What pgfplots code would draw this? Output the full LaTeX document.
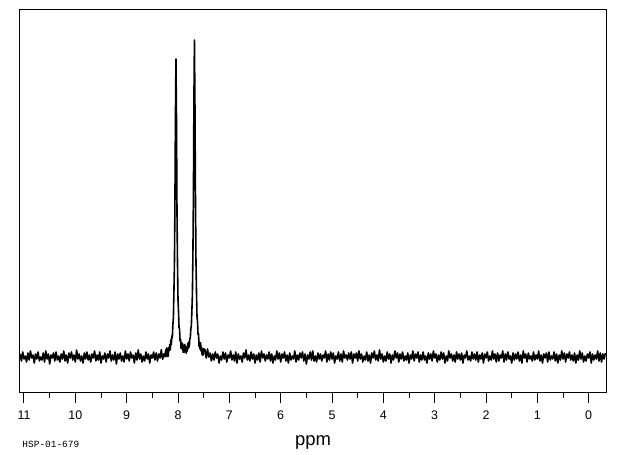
\documentclass[border=0pt]{standalone}
\usepackage{fontspec}
\setmainfont{Liberation Sans}
\newfontfamily\monofont{Liberation Mono}
\usepackage{pgfplots}
\pgfplotsset{compat=1.18}
\begin{document}
\begin{tikzpicture}
\begin{axis}[
  width=586bp, height=383.2bp, scale only axis,
  x dir=reverse, xmin=-0.337, xmax=11.078,
  ymin=-35.5, ymax=347.7,
  axis line style={line width=1bp},
  xtick={0,1,...,11},
  minor xtick={0.5,1.5,...,10.5},
  xtick pos=left, ytick=\empty,
  tick align=outside,
  major tick length=10bp, minor tick length=5bp,
  every tick/.style={black, line width=1bp},
  /pgf/number format/assume math mode=true,
  xticklabel style={font=\fontsize{12.5}{14}\selectfont, anchor=base, yshift=-17bp},
  xlabel={ppm},
  xlabel style={font=\fontsize{18.5}{20}\selectfont, at={(axis description cs:0.5,0)}, anchor=base, yshift=-52.5bp},
]
\addplot[black, line width=1.6bp, mark=none, line join=round] coordinates {
(11.075,3)(11.05,-4)(11.025,5)(11,-2)(10.975,1)(10.95,-5)(10.925,4)(10.9,-3)(10.875,6)(10.85,-1)
(10.825,2)(10.8,-6)(10.775,3)(10.75,-2)(10.725,5)(10.7,-4)(10.675,0)(10.65,-3)(10.625,4)(10.6,-5)
(10.575,6)(10.55,-2)(10.525,3)(10.5,-7)(10.475,2)(10.45,-1)(10.425,4)(10.4,-4)(10.375,5)(10.35,-3)
(10.325,1)(10.3,-5)(10.275,3)(10.25,-2)(10.225,6)(10.2,-4)(10.175,2)(10.15,-6)(10.125,4)(10.1,-1)
(10.075,5)(10.05,-3)(10.025,2)(10,-5)(9.975,7)(9.95,-2)(9.925,3)(9.9,-4)(9.875,1)(9.85,-6)
(9.825,4)(9.8,-2)(9.775,5)(9.75,-3)(9.725,2)(9.7,-5)(9.675,3)(9.65,-1)(9.625,6)(9.6,-4)
(9.575,2)(9.55,-3)(9.525,5)(9.5,-6)(9.475,1)(9.45,-2)(9.425,4)(9.4,-5)(9.375,3)(9.35,-1)
(9.325,6)(9.3,-4)(9.275,2)(9.25,-3)(9.225,5)(9.2,-7)(9.175,3)(9.15,-2)(9.125,4)(9.1,-4)
(9.075,1)(9.05,-5)(9.025,6)(9,-2)(8.975,3)(8.95,-4)(8.925,5)(8.9,-1)(8.875,2)(8.85,-6)
(8.825,4)(8.8,-3)(8.775,7)(8.75,-2)(8.725,3)(8.7,-5)(8.675,1)(8.65,-4)(8.625,5)(8.6,-2)
(8.575,3)(8.55,-6)(8.525,2)(8.5,-1)(8.475,5)(8.45,-3)(8.425,4)(8.4,-4)(8.375,3)(8.35,-1)
(8.325,7.4)(8.3,-2.3)(8.275,3.1)
(8.25,0.1)(8.24,7.3)(8.23,1.7)(8.22,9.1)(8.21,0.5)(8.20,7.1)(8.19,0.7)(8.18,9.5)(8.17,6.4)(8.16,12.6)
(8.15,7.1)(8.14,17.1)(8.13,12.6)(8.12,21.2)(8.11,19.2)(8.10,32.5)(8.09,38.9)(8.08,64.4)(8.07,90.5)(8.06,152.9)
(8.05,238.4)(8.04,298)(8.03,241.5)(8.02,147.1)(8.01,93.9)(8.00,56.8)(7.99,45.4)(7.98,29.2)(7.97,28.0)(7.96,16.1)
(7.95,17.7)(7.94,8.4)(7.93,14.6)(7.92,8.2)(7.91,13.3)(7.90,4.6)(7.89,10.1)(7.88,4.7)(7.87,12.6)(7.86,5.5)
(7.85,10.6)(7.84,3.8)(7.83,9.2)(7.82,5.8)(7.81,13.6)(7.80,8.6)(7.79,15.1)(7.78,10.0)(7.77,18.5)(7.76,19.1)
(7.75,28.3)(7.74,31.0)(7.73,45.9)(7.72,61.6)(7.71,100.6)(7.70,158.5)(7.69,255.6)(7.68,317)(7.67,252.5)(7.66,160.3)
(7.65,95.3)(7.64,66.1)(7.63,40.4)(7.62,35.4)(7.61,22.5)(7.60,23.2)(7.59,10.5)(7.58,14.8)(7.57,7.7)(7.56,14.1)
(7.55,5.8)(7.54,9.8)(7.53,2.0)(7.52,7.3)(7.51,1.8)(7.50,8.3)
(7.475,7)(7.45,-1)(7.425,8)(7.4,0)(7.375,4)(7.35,-4)(7.325,3)(7.3,-3)(7.275,5)(7.25,-1)
(7.225,3)(7.2,-6)(7.175,1)(7.15,-3)(7.125,5)(7.1,-2)(7.075,4)(7.05,-5)(7.025,2)(7,-1)
(6.975,6)(6.95,-3)(6.925,2)(6.9,-4)(6.875,5)(6.85,-6)(6.825,3)(6.8,-2)(6.775,1)(6.75,-5)
(6.725,4)(6.7,-1)(6.675,7)(6.65,-3)(6.625,2)(6.6,-4)(6.575,5)(6.55,-2)(6.525,3)(6.5,-6)
(6.475,2)(6.45,-3)(6.425,4)(6.4,-5)(6.375,6)(6.35,-1)(6.325,3)(6.3,-4)(6.275,2)(6.25,-2)
(6.225,5)(6.2,-4)(6.175,3)(6.15,-6)(6.125,1)(6.1,-3)(6.075,6)(6.05,-2)(6.025,4)(6,-5)
(5.975,3)(5.95,-1)(5.925,5)(5.9,-4)(5.875,2)(5.85,-6)(5.825,4)(5.8,-3)(5.775,1)(5.75,-2)
(5.725,6)(5.7,-5)(5.675,2)(5.65,-3)(5.625,4)(5.6,-1)(5.575,5)(5.55,-4)(5.525,3)(5.5,-7)
(5.475,2)(5.45,-2)(5.425,5)(5.4,-3)(5.375,6)(5.35,-4)(5.325,1)(5.3,-5)(5.275,4)(5.25,-2)
(5.225,3)(5.2,-4)(5.175,2)(5.15,-1)(5.125,6)(5.1,-5)(5.075,3)(5.05,-3)(5.025,5)(5,-2)
(4.975,4)(4.95,-6)(4.925,1)(4.9,-2)(4.875,5)(4.85,-4)(4.825,3)(4.8,-5)(4.775,6)(4.75,-1)
(4.725,2)(4.7,-3)(4.675,4)(4.65,-2)(4.625,5)(4.6,-6)(4.575,3)(4.55,-1)(4.525,4)(4.5,-4)
(4.475,6)(4.45,-2)(4.425,3)(4.4,-5)(4.375,1)(4.35,-3)(4.325,5)(4.3,-4)(4.275,2)(4.25,-6)
(4.225,4)(4.2,-1)(4.175,6)(4.15,-3)(4.125,2)(4.1,-4)(4.075,7)(4.05,-2)(4.025,3)(4,-5)
(3.975,1)(3.95,-4)(3.925,5)(3.9,-2)(3.875,3)(3.85,-6)(3.825,2)(3.8,-3)(3.775,6)(3.75,-1)
(3.725,4)(3.7,-5)(3.675,3)(3.65,-2)(3.625,5)(3.6,-4)(3.575,1)(3.55,-3)(3.525,4)(3.5,-6)
(3.475,2)(3.45,-2)(3.425,6)(3.4,-4)(3.375,3)(3.35,-1)(3.325,5)(3.3,-5)(3.275,2)(3.25,-3)
(3.225,5)(3.2,-3)(3.175,1)(3.15,-6)(3.125,4)(3.1,-2)(3.075,3)(3.05,-4)(3.025,6)(3,-1)
(2.975,3)(2.95,-5)(2.925,2)(2.9,-3)(2.875,5)(2.85,-2)(2.825,4)(2.8,-6)(2.775,1)(2.75,-4)
(2.725,6)(2.7,-1)(2.675,3)(2.65,-4)(2.625,2)(2.6,-5)(2.575,5)(2.55,-2)(2.525,3)(2.5,-3)
(2.475,4)(2.45,-6)(2.425,2)(2.4,-1)(2.375,6)(2.35,-3)(2.325,1)(2.3,-4)(2.275,5)(2.25,-2)
(2.225,3)(2.2,-3)(2.175,5)(2.15,-5)(2.125,2)(2.1,-2)(2.075,4)(2.05,-6)(2.025,3)(2,-1)
(1.975,5)(1.95,-4)(1.925,1)(1.9,-3)(1.875,6)(1.85,-2)(1.825,3)(1.8,-5)(1.775,4)(1.75,-4)
(1.725,2)(1.7,-1)(1.675,6)(1.65,-5)(1.625,3)(1.6,-3)(1.575,5)(1.55,-2)(1.525,1)(1.5,-6)
(1.475,4)(1.45,-3)(1.425,3)(1.4,-2)(1.375,5)(1.35,-4)(1.325,2)(1.3,-6)(1.275,6)(1.25,-1)
(1.225,3)(1.2,-5)(1.175,4)(1.15,-2)(1.125,1)(1.1,-4)(1.075,5)(1.05,-3)(1.025,2)(1,-2)
(0.975,6)(0.95,-4)(0.925,2)(0.9,-6)(0.875,3)(0.85,-1)(0.825,4)(0.8,-5)(0.775,5)(0.75,-3)
(0.725,1)(0.7,-2)(0.675,5)(0.65,-4)(0.625,3)(0.6,-6)(0.575,2)(0.55,-3)(0.525,6)(0.5,-2)
(0.475,4)(0.45,-5)(0.425,3)(0.4,-1)(0.375,5)(0.35,-3)(0.325,2)(0.3,-4)(0.275,4)(0.25,-6)
(0.225,2)(0.2,-3)(0.175,6)(0.15,-2)(0.125,4)(0.1,-5)(0.075,1)(0.05,-4)(0.025,3)(0,-1)
(-0.025,5)(-0.05,-6)(-0.075,3)(-0.1,-3)(-0.125,2)(-0.15,-2)(-0.175,6)(-0.2,-4)(-0.225,4)(-0.25,-5)
(-0.275,3)(-0.3,-2)(-0.325,4)
};
\end{axis}
\node[anchor=base west, inner sep=0pt, font=\monofont\fontsize{9.5}{11}\selectfont] at ([xshift=2.3bp, yshift=-55.2bp]current axis.south west) {HSP-01-679};
\pgfresetboundingbox
\path[use as bounding box] ([xshift=-20bp, yshift=-62.5bp]current axis.south west) rectangle ([xshift=14bp, yshift=9.3bp]current axis.north east);
\end{tikzpicture}
\end{document}
